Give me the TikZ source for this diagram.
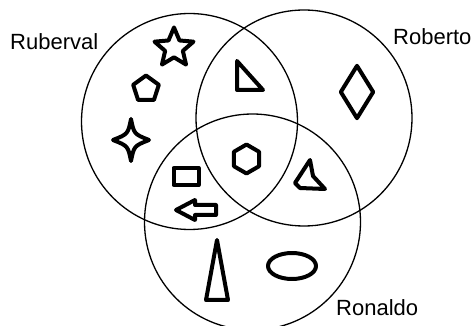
\documentclass[tikz,border=0pt]{standalone}
\usepackage{fontspec}
\setmainfont{Liberation Sans}
\usetikzlibrary{shapes.geometric, positioning}

\begin{document}
\begin{tikzpicture}[
      x=1pt, y=-1pt,
      set/.style      = {draw, circle, line width=1.3pt,
                         minimum size=216pt, inner sep=0pt},
      setlabel/.style = {anchor=base west, inner sep=0pt,
                         font=\fontsize{22}{26}\selectfont},
      icon/.style     = {draw, line width=4pt, line join=round,
                         inner sep=0pt},
    ]
    \useasboundingbox (0,0) rectangle (472,326);
    %% ── Conjuntos ──────────────────────────────────────────────
    \node (ruberval) [set] at (189.5,121.5) {};
    \node (roberto)  [set] at (304,118) {};
    \node (ronaldo)  [set] at (252.5,222) {};
    \node (lblruberval) [setlabel] at (10,50)  {Ruberval};
    \node (lblroberto)  [setlabel] at (393,45) {Roberto};
    \node (lblronaldo)  [setlabel] at (336,316) {Ronaldo};
    %% ── Só Ruberval ────────────────────────────────────────────
    \node (star) [icon, star, star points=5, star point ratio=2.2,
                  minimum size=41pt] at (174,48) {};
    \node (pentagon) [icon, regular polygon, regular polygon sides=5,
                      minimum size=27pt] at (146,89) {};
    \begin{scope}[shift={(131,140)}]
      \draw[icon] (0,-21) .. controls (3,-6) .. (18,0)
                          .. controls (3,6) .. (0,21)
                          .. controls (-3,6) .. (-18,0)
                          .. controls (-3,-6) .. (0,-21) -- cycle;
    \end{scope}
    %% ── Ruberval e Roberto ─────────────────────────────────────
    \draw[icon] (237,61) -- (237,90) -- (263,90) -- cycle;
    %% ── Só Roberto ─────────────────────────────────────────────
    \node (diamond) [icon, diamond, minimum width=34pt,
                     minimum height=54pt] at (357,92) {};
    %% ── Os três ────────────────────────────────────────────────
    \node (hexagon) [icon, regular polygon, regular polygon sides=6,
                     shape border rotate=30, minimum size=29pt]
                     at (246.5,159) {};
    %% ── Roberto e Ronaldo ──────────────────────────────────────
    \draw[icon] (310,160) -- (295,183) -- (300,188) -- (325,189)
                -- (313,176) -- cycle;
    %% ── Ruberval e Ronaldo ─────────────────────────────────────
    \node (rect) [icon, rectangle, minimum width=25pt,
                  minimum height=17pt] at (186,176.5) {};
    \draw[icon] (176,210) -- (195,200) -- (195,205) -- (216,205)
                -- (216,215) -- (195,215) -- (195,220) -- cycle;
    %% ── Só Ronaldo ─────────────────────────────────────────────
    \draw[icon] (217,240) -- (206,300) -- (228,300) -- cycle;
    \node (ellipse) [icon, ellipse, minimum width=48pt,
                     minimum height=26pt] at (292,266) {};
  \end{tikzpicture}
\end{document}
